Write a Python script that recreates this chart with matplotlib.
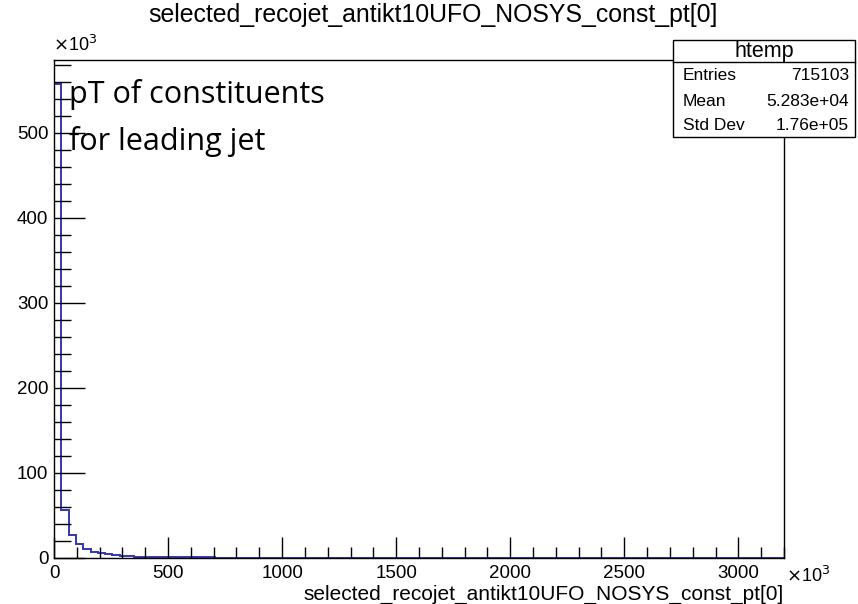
import numpy as np
import matplotlib.pyplot as plt
from matplotlib.patches import Rectangle
from matplotlib.ticker import MultipleLocator

plt.rcParams['font.family'] = ['Liberation Sans', 'DejaVu Sans']

# 100 bins over [0, 3200] (x10^3), counts in units of 10^3 entries
X_MIN = 0.0
X_MAX = 3200.0
N_BINS = 100
counts = [557.5, 56.0, 26.6, 16.0, 10.6, 7.4, 5.5, 4.3, 3.1, 2.4,
          2.1, 1.7, 1.4, 1.2, 1.1, 1.0, 0.9, 0.8, 0.7, 0.7,
          0.6, 0.6, 0.5]
counts = counts + [0.0] * (N_BINS - len(counts))

title = 'selected_recojet_antikt10UFO_NOSYS_const_pt[0]'
stats_name = 'htemp'
stats_rows = [('Entries', '715103'), ('Mean', '5.283e+04'), ('Std Dev', '1.76e+05')]

W, H = 858, 604
fig = plt.figure(figsize=(W / 100, H / 100), dpi=100)
ax = fig.add_axes([54 / W, 1 - 558 / H, (784 - 54) / W, (558 - 60) / H])

edges = np.linspace(X_MIN, X_MAX, N_BINS + 1)
ax.stairs(counts, edges, color='#3535b0', linewidth=1.4)

ax.set_xlim(X_MIN, X_MAX)
ax.set_ylim(0, 1.05 * max(counts))

ax.xaxis.set_major_locator(MultipleLocator(500))
ax.xaxis.set_minor_locator(MultipleLocator(100))
ax.yaxis.set_major_locator(MultipleLocator(100))
ax.yaxis.set_minor_locator(MultipleLocator(20))
ax.tick_params(which='both', direction='in', top=False, right=False,
               labelsize=13.5, color='black', width=1.0)
ax.tick_params(axis='x', which='major', length=15, pad=5)
ax.tick_params(axis='x', which='minor', length=8)
ax.tick_params(axis='y', which='major', length=22, pad=4)
ax.tick_params(axis='y', which='minor', length=12)
for s in ax.spines.values():
    s.set_linewidth(1.0)

# axis title sits right-aligned under the axis, below the tick labels
fig.text(784 / W, 1 - 600 / H, title, fontsize=15, ha='right', va='baseline')

# exponent markers
fig.text(53 / W, 1 - 51 / H, r'$\times$10$^{3}$', fontsize=13, ha='left', va='baseline')
fig.text(786 / W, 1 - 582 / H, r'$\times$10$^{3}$', fontsize=13, ha='left', va='baseline')

fig.text(0.5 * (148 + 717) / W, 1 - 22 / H, title, fontsize=17.9, ha='center', va='baseline')

fig.text(69 / W, 1 - 103 / H, 'pT of constituents', family=['Open Sans', 'DejaVu Sans'],
         fontsize=22, ha='left', va='baseline')
fig.text(69 / W, 1 - 150 / H, 'for leading jet', family=['Open Sans', 'DejaVu Sans'],
         fontsize=22, ha='left', va='baseline')

# statistics box
bx0, bx1, by0, by1, bsep = 673, 855, 40, 137, 62
fig.patches.append(Rectangle((bx0 / W, 1 - by1 / H), (bx1 - bx0) / W, (by1 - by0) / H,
                             transform=fig.transFigure, facecolor='white',
                             edgecolor='black', linewidth=1.0, zorder=5))
fig.lines.append(plt.Line2D([bx0 / W, bx1 / W], [1 - bsep / H, 1 - bsep / H],
                            transform=fig.transFigure, color='black', linewidth=1.0, zorder=6))
fig.text((bx0 + bx1) / 2 / W, 1 - 57 / H, stats_name, fontsize=15.5, ha='center',
         va='baseline', zorder=7)
row_y = [80, 106, 130]
for (name, val), y in zip(stats_rows, row_y):
    fig.text(683 / W, 1 - y / H, name, fontsize=12.5, ha='left', va='baseline', zorder=7)
    fig.text(849 / W, 1 - y / H, val, fontsize=12.5, ha='right', va='baseline', zorder=7)

fig.savefig('out.png', dpi=100)
